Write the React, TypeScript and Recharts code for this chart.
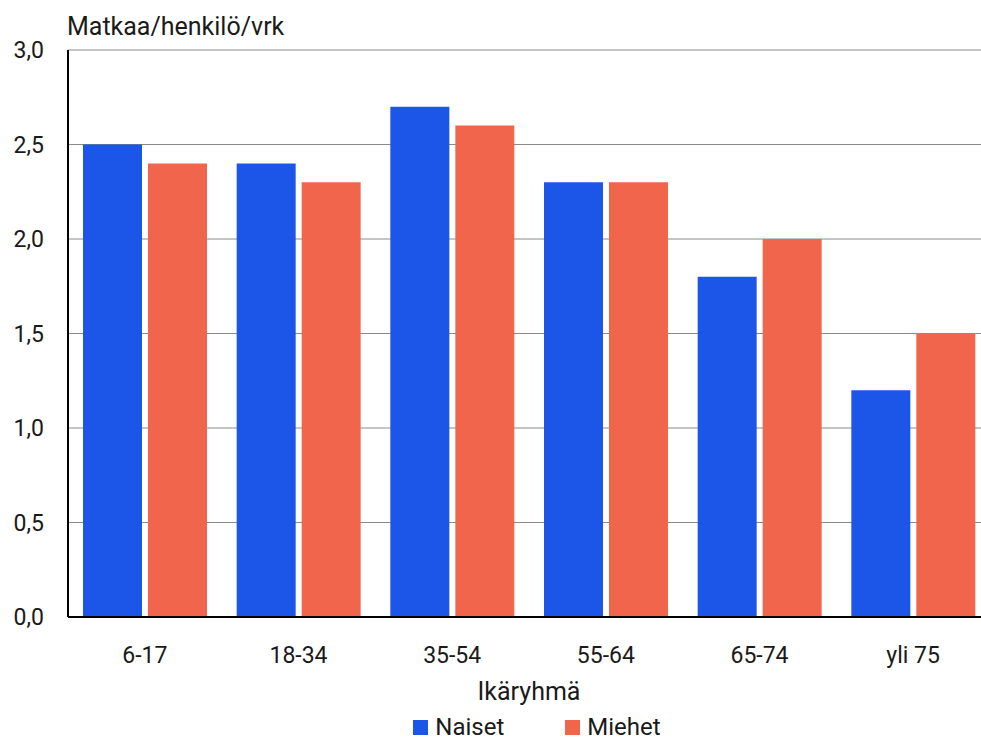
import React from 'react';
import { BarChart, Bar, XAxis, YAxis, CartesianGrid, Legend } from 'recharts';

const categories = ['6-17', '18-34', '35-54', '55-64', '65-74', 'yli 75'];
const naiset = [2.5, 2.4, 2.7, 2.3, 1.8, 1.2];
const miehet = [2.4, 2.3, 2.6, 2.3, 2.0, 1.5];
const yTicks = [0, 0.5, 1, 1.5, 2, 2.5, 3];
const seriesNames = ['Naiset', 'Miehet'];
const seriesColors = ['#1c56e8', '#f1654d'];

const data = categories.map((c, i) => ({ name: c, Naiset: naiset[i], Miehet: miehet[i] }));

const FONT = 'Roboto, "Noto Sans", sans-serif';
const fmt = (v: number) => v.toFixed(1).replace('.', ',');

const LegendContent = () => (
  <div style={{ display: 'flex', justifyContent: 'center', alignItems: 'center', height: 20, marginTop: 17, paddingLeft: 84, fontFamily: FONT, fontSize: 24, lineHeight: '20px', color: '#1a1a1a' }}>
    {seriesNames.map((n, i) => (
      <div key={n} style={{ display: 'flex', alignItems: 'center', height: 20, marginRight: i === 0 ? 61 : 0 }}>
        <span style={{ display: 'inline-block', width: 15, height: 15, background: seriesColors[i], marginRight: 7 }} />
        <span style={{ lineHeight: '20px' }}>{n}</span>
      </div>
    ))}
  </div>
);

export default function App() {
  return (
    <div style={{ position: 'fixed', left: 0, top: 0, width: 981, height: 740, overflow: 'hidden', background: '#fff' }}>
      <BarChart
        width={1000}
        height={740}
        data={data}
        margin={{ top: 50, right: 10, left: 0, bottom: 10 }}
        barSize={59}
        barGap={6}
      >
        <CartesianGrid vertical={false} stroke="#8a8a8a" strokeWidth={1} />
        <XAxis
          dataKey="name"
          height={83}
          axisLine={{ stroke: '#000', strokeWidth: 2 }}
          tickLine={false}
          tickSize={0}
          tickMargin={30}
          tick={{ fill: '#1a1a1a', fontSize: 23, fontFamily: FONT }}
          label={(props: any) => {
            const vb = props.viewBox;
            return (
              <text x={vb.x + vb.width / 2} y={700} textAnchor="middle" fill="#1a1a1a" fontSize={25} fontFamily={FONT}>
                Ikäryhmä
              </text>
            );
          }}
        />
        <YAxis
          width={68}
          domain={[0, 3]}
          ticks={yTicks}
          interval={0}
          tickFormatter={fmt}
          axisLine={{ stroke: '#000', strokeWidth: 2 }}
          tickLine={false}
          tickSize={0}
          tickMargin={24}
          tick={{ fill: '#1a1a1a', fontSize: 23, fontFamily: FONT }}
          label={(props: any) => {
            const vb = props.viewBox;
            return (
              <text x={vb.x + vb.width - 1} y={35} textAnchor="start" fill="#1a1a1a" fontSize={25} fontFamily={FONT}>
                Matkaa/henkilö/vrk
              </text>
            );
          }}
        />
        <Legend verticalAlign="bottom" height={30} content={<LegendContent />} />
        <Bar dataKey="Naiset" fill={seriesColors[0]} isAnimationActive={false} />
        <Bar dataKey="Miehet" fill={seriesColors[1]} isAnimationActive={false} />
      </BarChart>
    </div>
  );
}
